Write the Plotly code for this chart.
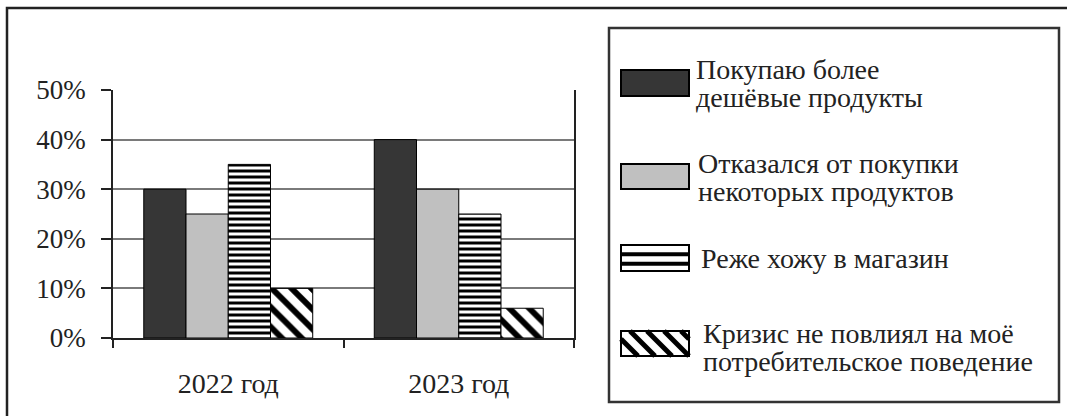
import plotly.graph_objects as go

# ---- data ----
years = ["2022 год", "2023 год"]
series_names = [
    "Покупаю более<br>дешёвые продукты",
    "Отказался от покупки<br>некоторых продуктов",
    "Реже хожу в магазин",
    "Кризис не повлиял на моё<br>потребительское поведение",
]
cheaper = [30, 40]
refused = [25, 30]
less_often = [35, 25]
no_effect = [10, 6]
y_ticks = [0, 10, 20, 30, 40, 50]
y_tick_labels = ["0%", "10%", "20%", "30%", "40%", "50%"]

# ---- layout geometry (pixels) ----
W, H = 1067, 416
L, R, T, B = 113, W - 574, 90, H - 338
PW, PH = W - L - R, H - T - B


def px(x):
    return (x - L) / PW


def py(y):
    return (H - B - y) / PH


FONT = "Liberation Serif"
INK = "#222222"

fig = go.Figure()
values = [cheaper, refused, less_often, no_effect]
styles = [
    dict(color="#363636"),
    dict(color="#c0c0c0"),
    dict(color="white", pattern=dict(shape="-", fgcolor="black", bgcolor="white",
                                      size=6, solidity=0.5, fgopacity=1)),
    dict(color="white", pattern=dict(shape="\\", fgcolor="black", bgcolor="white",
                                      size=14, solidity=0.42, fgopacity=1)),
]
for name, vals, st in zip(series_names, values, styles):
    fig.add_trace(go.Bar(
        x=years, y=vals, name=name, showlegend=False,
        marker=dict(line=dict(color="black", width=1), **st),
    ))

shapes = []
annotations = []

# outer frame
shapes.append(dict(type="rect", xref="paper", yref="paper",
                   x0=px(7), x1=px(1085), y0=py(8), y1=py(430),
                   line=dict(color=INK, width=2.5), fillcolor="rgba(0,0,0,0)", layer="below"))
# legend box
shapes.append(dict(type="rect", xref="paper", yref="paper",
                   x0=px(609), x1=px(1059), y0=py(28), y1=py(402),
                   line=dict(color="#333333", width=2.5), fillcolor="rgba(0,0,0,0)"))

sw_x0, sw_x1 = 621, 689
sw_rows = [(70, 96), (164, 189), (245, 271), (331, 356)]
text_x = [694, 696, 699, 701]
line_y = [[69, 97], [163, 191], [258], [333, 361]]

for i, (y0, y1) in enumerate(sw_rows):
    fill = "white"
    if i == 0:
        fill = "#363636"
    elif i == 1:
        fill = "#c0c0c0"
    shapes.append(dict(type="rect", xref="paper", yref="paper",
                       x0=px(sw_x0), x1=px(sw_x1), y0=py(y0), y1=py(y1),
                       line=dict(color="black", width=0), fillcolor=fill))
    if i == 2:
        for frac in (0.36, 0.72):
            yy = y0 + frac * (y1 - y0)
            shapes.append(dict(type="line", xref="paper", yref="paper",
                               x0=px(sw_x0), x1=px(sw_x1), y0=py(yy), y1=py(yy),
                               line=dict(color="black", width=4)))
    if i == 3:
        h = y1 - y0
        period = 17
        a = sw_x0 - h
        while a < sw_x1:
            xa, ya = a, y0
            xb, yb = a + h, y1
            if xa < sw_x0:
                ya = y0 + (sw_x0 - xa)
                xa = sw_x0
            if xb > sw_x1:
                yb = y1 - (xb - sw_x1)
                xb = sw_x1
            if xb > xa:
                shapes.append(dict(type="line", xref="paper", yref="paper",
                                   x0=px(xa), x1=px(xb), y0=py(ya), y1=py(yb),
                                   line=dict(color="black", width=5)))
            a += period
    shapes.append(dict(type="rect", xref="paper", yref="paper",
                       x0=px(sw_x0), x1=px(sw_x1), y0=py(y0), y1=py(y1),
                       line=dict(color="black", width=2), fillcolor="rgba(0,0,0,0)"))
    for line_text, ly in zip(series_names[i].split("<br>"), line_y[i]):
        annotations.append(dict(xref="paper", yref="paper", x=px(text_x[i]), y=py(ly),
                                xanchor="left", yanchor="middle", align="left",
                                text=line_text, showarrow=False,
                                font=dict(family=FONT, size=28, color=INK)))

fig.update_layout(
    width=W, height=H,
    margin=dict(l=L, r=R, t=T, b=B, pad=0),
    paper_bgcolor="white", plot_bgcolor="white",
    barmode="group", bargap=0.267, bargroupgap=0,
    shapes=shapes, annotations=annotations,
    font=dict(family=FONT, color=INK),
)
fig.update_xaxes(
    type="category", tickson="boundaries", ticks="outside", ticklen=8,
    tickcolor=INK, tickwidth=1.5,
    showline=True, linecolor=INK, linewidth=1.5, showgrid=False,
    tickfont=dict(family=FONT, size=28, color=INK), ticklabelstandoff=20,
)
fig.update_yaxes(
    range=[0, 50], tickvals=y_ticks, ticktext=y_tick_labels,
    ticks="outside", ticklen=10, tickcolor=INK, tickwidth=1.5,
    showline=True, mirror=True, linecolor=INK, linewidth=1.5,
    showgrid=True, gridcolor="#7a7a7a", gridwidth=1.5, zeroline=False,
    tickfont=dict(family=FONT, size=27, color=INK), ticklabelstandoff=10,
)

fig.write_html("out.html", config={"displayModeBar": False},
               post_script="document.body.style.margin='0px';")
